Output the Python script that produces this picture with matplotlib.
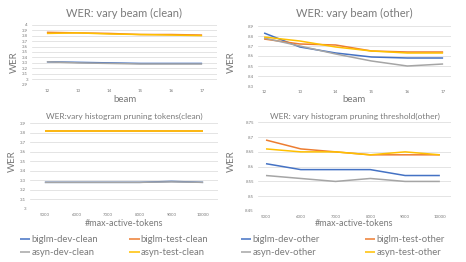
import matplotlib
matplotlib.use('Agg')
import matplotlib.pyplot as plt

plt.rcParams['font.family'] = ['Lato', 'DejaVu Sans']

W, H = 466, 262

# ---- data ----
beams = ['12', '13', '14', '15', '16', '17']
tokens = ['5000', '6000', '7000', '8000', '9000', '10000']

# WER vs beam, clean
beam_biglm_dev_clean = [3.32, 3.31, 3.30, 3.29, 3.29, 3.29]
beam_biglm_test_clean = [3.86, 3.85, 3.84, 3.82, 3.82, 3.81]
beam_asyn_dev_clean = [3.32, 3.30, 3.29, 3.28, 3.28, 3.28]
beam_asyn_test_clean = [3.84, 3.85, 3.83, 3.82, 3.81, 3.80]

# WER vs beam, other
beam_biglm_dev_other = [8.83, 8.69, 8.63, 8.59, 8.58, 8.58]
beam_biglm_test_other = [8.77, 8.72, 8.71, 8.65, 8.64, 8.64]
beam_asyn_dev_other = [8.78, 8.70, 8.62, 8.55, 8.50, 8.52]
beam_asyn_test_other = [8.79, 8.75, 8.69, 8.65, 8.63, 8.63]

# WER vs max-active-tokens, clean
tok_biglm_dev_clean = [3.28, 3.28, 3.28, 3.28, 3.29, 3.28]
tok_biglm_test_clean = [3.82, 3.82, 3.82, 3.82, 3.82, 3.82]
tok_asyn_dev_clean = [3.28, 3.28, 3.28, 3.28, 3.285, 3.28]
tok_asyn_test_clean = [3.815, 3.815, 3.815, 3.815, 3.815, 3.815]

# WER vs max-active-tokens, other
tok_biglm_dev_other = [8.61, 8.59, 8.59, 8.59, 8.57, 8.57]
tok_biglm_test_other = [8.69, 8.66, 8.65, 8.64, 8.64, 8.64]
tok_asyn_dev_other = [8.57, 8.56, 8.55, 8.56, 8.55, 8.55]
tok_asyn_test_other = [8.66, 8.65, 8.65, 8.64, 8.65, 8.64]

colors = ['#4472C4', '#ED7D31', '#A5A5A5', '#FFC000']
txt = '#7a7a7a'
grid = '#d9d9d9'


def px_axes(fig, left, right, top, bottom):
    # axes placed in pixel coords of the 466x262 canvas
    return fig.add_axes([left / W, 1 - bottom / H, (right - left) / W, (bottom - top) / H])


def panel(ax, cats, series, labels, ylim, yticks, xlim, title, title_y, title_size,
          xlabel, xlabel_y, xlabel_size):
    x = range(len(cats))
    lines = []
    for s, c, lab in zip(series, colors, labels):
        ln, = ax.plot(x, s, color=c, lw=1.1, label=lab, solid_capstyle='butt')
        lines.append(ln)
    ax.set_xlim(*xlim)
    ax.set_ylim(*ylim)
    ax.set_yticks(yticks)
    ax.set_yticklabels(['%g' % v for v in yticks])
    ax.set_xticks(list(x))
    ax.set_xticklabels(cats)
    ax.tick_params(length=0, labelsize=3.2, labelcolor=txt, pad=3)
    ax.grid(axis='y', color=grid, lw=0.5)
    ax.set_axisbelow(True)
    for sp in ax.spines.values():
        sp.set_visible(False)
    bb = ax.get_position()
    cx = (bb.x0 + bb.x1) / 2
    ax.figure.text(cx, 1 - title_y / H, title, ha='center', va='center',
                   fontsize=title_size, color=txt)
    ax.figure.text(cx, 1 - xlabel_y / H, xlabel, ha='center', va='center',
                   fontsize=xlabel_size, color=txt)
    return lines


fig = plt.figure(figsize=(W / 100, H / 100), dpi=100)

ax1 = px_axes(fig, 32, 217, 24.7, 84.7)
panel(ax1, beams,
      [beam_biglm_dev_clean, beam_biglm_test_clean, beam_asyn_dev_clean, beam_asyn_test_clean],
      ['biglm-dev-clean', 'biglm-test-clean', 'asyn-dev-clean', 'asyn-test-clean'],
      (2.9, 4.0), [2.9 + 0.1 * i for i in range(12)], (-0.48, 5.48),
      'WER: vary beam (clean)', 13, 8, 'beam', 99, 7)

ax2 = px_axes(fig, 258, 451, 26, 86)
panel(ax2, beams,
      [beam_biglm_dev_other, beam_biglm_test_other, beam_asyn_dev_other, beam_asyn_test_other],
      ['biglm-dev-other', 'biglm-test-other', 'asyn-dev-other', 'asyn-test-other'],
      (8.3, 8.9), [8.3 + 0.1 * i for i in range(7)], (-0.17, 5.22),
      'WER: vary beam (other)', 13, 8, 'beam', 100, 7)

ax3 = px_axes(fig, 30, 218, 123.3, 209)
h_clean = panel(ax3, tokens,
                [tok_biglm_dev_clean, tok_biglm_test_clean, tok_asyn_dev_clean, tok_asyn_test_clean],
                ['biglm-dev-clean', 'biglm-test-clean', 'asyn-dev-clean', 'asyn-test-clean'],
                (3.0, 3.9), [3.0 + 0.1 * i for i in range(10)], (-0.47, 5.47),
                'WER:vary histogram pruning tokens(clean)', 116, 6, '#max-active-tokens', 224, 6.5)

ax4 = px_axes(fig, 258, 451, 122.3, 211)
h_other = panel(ax4, tokens,
                [tok_biglm_dev_other, tok_biglm_test_other, tok_asyn_dev_other, tok_asyn_test_other],
                ['biglm-dev-other', 'biglm-test-other', 'asyn-dev-other', 'asyn-test-other'],
                (8.45, 8.75), [8.45 + 0.05 * i for i in range(7)], (-0.23, 5.32),
                'WER: vary histogram pruning threshold(other)', 116, 6, '#max-active-tokens', 224, 6.5)

# y labels
for xp, yp in [(14, 62), (231, 62), (12, 161), (231, 161)]:
    fig.text(xp / W, 1 - yp / H, 'WER', rotation=90, ha='center', va='center',
             fontsize=7, color=txt)

# legends: rows are (biglm-dev, biglm-test), (asyn-dev, asyn-test)
for handles, x0, colsp in [(h_clean, 20, 3.3), (h_other, 241, 4.8)]:
    order = [handles[0], handles[2], handles[1], handles[3]]
    leg = fig.legend(handles=order, ncol=2, loc='upper left',
                     bbox_to_anchor=(x0 / W, 1 - 235 / H), frameon=False,
                     fontsize=6.8, handlelength=1.1, handletextpad=0.1,
                     columnspacing=colsp, labelspacing=0.45, borderpad=0, borderaxespad=0)
    for t in leg.get_texts():
        t.set_color(txt)

fig.savefig('out.png', dpi=100)
